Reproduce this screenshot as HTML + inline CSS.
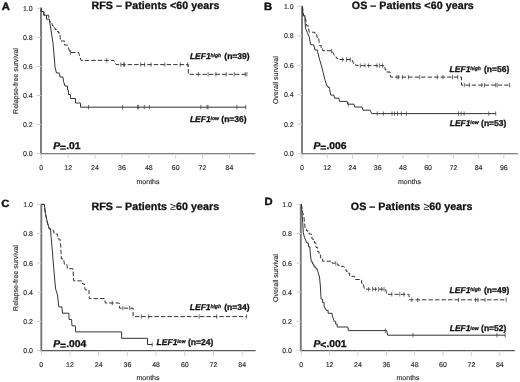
<!DOCTYPE html>
<html><head><meta charset="utf-8"><title>Figure</title>
<style>
html,body{margin:0;padding:0;background:#fff;}
svg{display:block;text-rendering:geometricPrecision;font-family:"Liberation Sans",Arial,Helvetica,sans-serif;}
.tk{font-size:7px;fill:#2c2c2c;stroke:#2c2c2c;stroke-width:0.15;}
.lb{font-size:7px;fill:#2c2c2c;stroke:#2c2c2c;stroke-width:0.15;}
.ttl{font-size:10.7px;font-weight:bold;fill:#111;stroke:#111;stroke-width:0.3;letter-spacing:0.05px;}
.ltr{font-size:10.5px;font-weight:bold;fill:#111;stroke:#111;stroke-width:0.4;}
.pv{font-size:9.9px;font-weight:bold;fill:#111;stroke:#111;stroke-width:0.3;}
.sp{font-size:5px;font-weight:bold;font-style:italic;fill:#111;stroke:#111;stroke-width:0.25;}
.lg{font-size:8.5px;font-weight:bold;fill:#111;stroke:#111;stroke-width:0.3;}
.cv{fill:none;stroke:#333;stroke-width:1.0;stroke-linejoin:miter;}
.ct{fill:none;stroke:#333;stroke-width:0.7;}
</style></head>
<body>
<svg width="520" height="382" viewBox="0 0 520 382">
<rect width="520" height="382" fill="#fff"/>
<path d="M41.0,7.800000000000001V154.29999999999998" fill="none" stroke="#787878" stroke-width="1.9"/>
<path d="M40.1,153.7H255.3" fill="none" stroke="#585858" stroke-width="1.05"/>
<text x="32.7" y="156.3" text-anchor="end" class="tk">0.0</text>
<text x="32.7" y="127.2" text-anchor="end" class="tk">0.2</text>
<text x="32.7" y="98.1" text-anchor="end" class="tk">0.4</text>
<text x="32.7" y="69.1" text-anchor="end" class="tk">0.6</text>
<text x="32.7" y="40.0" text-anchor="end" class="tk">0.8</text>
<text x="32.7" y="10.9" text-anchor="end" class="tk">1.0</text>
<text x="41.3" y="169.9" text-anchor="middle" class="tk">0</text>
<text x="68.2" y="169.9" text-anchor="middle" class="tk">12</text>
<text x="95.0" y="169.9" text-anchor="middle" class="tk">24</text>
<text x="121.9" y="169.9" text-anchor="middle" class="tk">36</text>
<text x="148.8" y="169.9" text-anchor="middle" class="tk">48</text>
<text x="175.7" y="169.9" text-anchor="middle" class="tk">60</text>
<text x="202.5" y="169.9" text-anchor="middle" class="tk">72</text>
<text x="229.4" y="169.9" text-anchor="middle" class="tk">84</text>
<path d="M36.5,153.7H41.0M36.5,124.6H41.0M36.5,95.5H41.0M36.5,66.5H41.0M36.5,37.4H41.0M36.5,8.3H41.0M41.3,153.7V158.7M68.2,153.7V158.7M95.0,153.7V158.7M121.9,153.7V158.7M148.8,153.7V158.7M175.7,153.7V158.7M202.5,153.7V158.7M229.4,153.7V158.7" fill="none" stroke="#cfcfcf" stroke-width="1"/>
<path d="M41.3,7.8H41.3V11.5H43.8V11.5H43.8V15.2H46.5V15.2H46.5V19.2H49.5V19.2L50.0,24.0L51.0,30.0L53.0,43.0L54.5,60.0L55.0,67.0L56.5,73.0H59.5V73.5L60.0,77.0H63.0V77.5L63.5,81.5L65.0,86.0H67.5V86.0H67.5V90.0H68.5V90.5H68.5V94.5H70.5V95.0H70.5V98.5H75.5V98.8H75.5V103.0H80.5V103.2H80.5V107.2H246.2V107.2" class="cv"/>
<path d="M41.3,7.8H41.3V11.5H43.8V11.5H43.8V15.2H48.7V15.2H48.7V19.2H49.5V19.2H49.5V22.0H52.0V23.0L52.5,26.0H53.8V27.8H55.0V29.5H56.5V31.5H58.5V33.0H60.0V35.0L60.5,41.0H64.5V41.2H64.5V45.0H67.5V45.0L70.0,52.5H78.5V52.5L81.0,60.4H114.0V60.4L116.0,64.6H188.3V64.6H188.3V74.3H246.9V74.3" class="cv" stroke-dasharray="4.4 2.1"/>
<path d="M88.5,104.9V109.3 M122.5,104.9V109.3 M137.5,104.9V109.3 M138.6,104.9V109.3 M144.3,104.9V109.3 M149.4,104.9V109.3 M200.9,104.9V109.3 M207.0,104.9V109.3 M208.0,104.9V109.3 M236.9,104.9V109.3 M245.7,104.9V109.3" class="ct"/>
<path d="M70.5,50.3V54.7" class="ct"/>
<path d="M106.8,58.2V62.6" class="ct"/>
<path d="M120.8,62.4V66.8 M123.8,62.4V66.8 M124.6,62.4V66.8 M140.7,62.4V66.8 M144.6,62.4V66.8 M151.0,62.4V66.8 M164.9,62.4V66.8 M180.2,62.4V66.8 M187.6,62.4V66.8" class="ct"/>
<path d="M198.3,72.1V76.5 M208.1,72.1V76.5 M215.9,72.1V76.5 M226.3,72.1V76.5 M234.3,72.1V76.5 M245.2,72.1V76.5 M246.9,72.1V76.5" class="ct"/>
<text transform="translate(1.8,10.1) scale(1.07,1)" class="ltr">A</text>
<text x="91.5" y="9.4" class="ttl">RFS – Patients &lt;60 years</text>
<text transform="translate(17.9,81) rotate(-90)" text-anchor="middle" class="lb">Relapse-free survival</text>
<text x="148" y="183.7" text-anchor="middle" class="lb">months</text>
<text transform="translate(53.2,148.9) scale(1.05,1)" class="pv"><tspan font-style="italic">P</tspan><tspan dy="1.6">=</tspan><tspan dy="-1.6">.01</tspan></text>
<text x="189.9" y="58.6" class="lg" font-style="italic">LEF1</text>
<text x="210.5" y="56.9" class="sp">high</text>
<text x="224.3" y="58.6" class="lg">(n=39)</text>
<text x="189.9" y="121.9" class="lg" font-style="italic">LEF1</text>
<text x="210.5" y="120.2" class="sp">low</text>
<text x="221.3" y="121.9" class="lg">(n=36)</text>
<path d="M302.0,5.8V154.29999999999998" fill="none" stroke="#787878" stroke-width="1.9"/>
<path d="M301.1,153.7H517.9" fill="none" stroke="#585858" stroke-width="1.05"/>
<text x="293.7" y="156.3" text-anchor="end" class="tk">0.0</text>
<text x="293.7" y="126.8" text-anchor="end" class="tk">0.2</text>
<text x="293.7" y="97.3" text-anchor="end" class="tk">0.4</text>
<text x="293.7" y="67.9" text-anchor="end" class="tk">0.6</text>
<text x="293.7" y="38.4" text-anchor="end" class="tk">0.8</text>
<text x="293.7" y="8.9" text-anchor="end" class="tk">1.0</text>
<text x="302.0" y="169.9" text-anchor="middle" class="tk">0</text>
<text x="327.2" y="169.9" text-anchor="middle" class="tk">12</text>
<text x="352.4" y="169.9" text-anchor="middle" class="tk">24</text>
<text x="377.7" y="169.9" text-anchor="middle" class="tk">36</text>
<text x="402.9" y="169.9" text-anchor="middle" class="tk">48</text>
<text x="428.1" y="169.9" text-anchor="middle" class="tk">60</text>
<text x="453.4" y="169.9" text-anchor="middle" class="tk">72</text>
<text x="478.6" y="169.9" text-anchor="middle" class="tk">84</text>
<text x="503.8" y="169.9" text-anchor="middle" class="tk">96</text>
<path d="M297.5,153.7H302.0M297.5,124.2H302.0M297.5,94.7H302.0M297.5,65.3H302.0M297.5,35.8H302.0M297.5,6.3H302.0M302.0,153.7V158.7M327.2,153.7V158.7M352.4,153.7V158.7M377.7,153.7V158.7M402.9,153.7V158.7M428.1,153.7V158.7M453.4,153.7V158.7M478.6,153.7V158.7M503.8,153.7V158.7" fill="none" stroke="#cfcfcf" stroke-width="1"/>
<path d="M302.4,6.4L303.0,15.8H304.9V18.4L305.5,28.4L307.4,32.8L309.3,37.2L310.6,44.8H313.8V45.3L315.0,50.0H317.5V51.3L319.4,58.9L321.3,65.2L323.2,72.7L325.1,80.3L327.0,86.3H328.2V87.5H329.5V88.8L330.8,95.1H334.0V95.7L334.6,98.2H339.0V98.9L339.6,101.4H347.2V101.6L347.8,104.2H354.1V104.5L354.7,107.0H362.3V107.4L362.9,110.2H370.4V110.6L371.7,113.6H495.7V113.6" class="cv"/>
<path d="M302.4,6.4L303.7,15.8H305.5V18.4L306.8,25.9H308.7V29.0L309.3,32.2H313.7V32.4H315.0V34.7H316.9V37.2H318.8V39.1L319.4,44.8L319.8,45.7H321.2V48.2H322.6V50.7H331.4V51.1H332.6V52.0L335.2,57.0H336.4V58.2H337.7V59.5H352.1V59.7L353.4,63.3H354.6V64.4H355.9V65.6H382.6V65.6H383.9V67.7H385.1V69.9H386.4V72.0H390.1V73.3L390.8,77.1H461.5V77.1H461.5V85.1H509.6V85.1" class="cv" stroke-dasharray="4.4 2.1"/>
<path d="M377.3,111.4V115.8 M383.4,111.4V115.8 M392.0,111.4V115.8 M394.5,111.4V115.8 M397.5,111.4V115.8 M401.3,111.4V115.8 M406.3,111.4V115.8 M458.5,111.4V115.8 M461.1,111.4V115.8 M464.1,111.4V115.8 M488.8,111.4V115.8 M495.7,111.4V115.8" class="ct"/>
<path d="M331.4,48.9V53.3" class="ct"/>
<path d="M342.7,57.4V61.8 M346.5,57.4V61.8 M350.3,57.4V61.8" class="ct"/>
<path d="M360.3,63.4V67.8 M365.0,63.4V67.8 M368.6,63.4V67.8 M376.9,63.4V67.8 M379.4,63.4V67.8 M382.6,63.4V67.8" class="ct"/>
<path d="M397.0,74.9V79.3 M398.7,74.9V79.3 M402.5,74.9V79.3 M408.4,74.9V79.3 M419.7,74.9V79.3 M437.3,74.9V79.3 M443.0,74.9V79.3 M452.5,74.9V79.3 M457.7,74.9V79.3" class="ct"/>
<path d="M464.3,82.9V87.3 M469.4,82.9V87.3 M481.9,82.9V87.3 M484.5,82.9V87.3 M495.7,82.9V87.3 M497.1,82.9V87.3 M509.6,82.9V87.3" class="ct"/>
<path d="M348.2,102.1V106.5" class="ct"/>
<text transform="translate(264.1,9.6) scale(1.07,1)" class="ltr">B</text>
<text x="351.8" y="8.9" class="ttl">OS – Patients &lt;60 years</text>
<text transform="translate(278,80.2) rotate(-90)" text-anchor="middle" class="lb">Overall survival</text>
<text x="409.5" y="183.7" text-anchor="middle" class="lb">months</text>
<text transform="translate(313.4,148.9) scale(1.05,1)" class="pv"><tspan font-style="italic">P</tspan><tspan dy="1.6">=</tspan><tspan dy="-1.6">.006</tspan></text>
<text x="449.6" y="71.6" class="lg" font-style="italic">LEF1</text>
<text x="470.2" y="69.9" class="sp">high</text>
<text x="484.0" y="71.6" class="lg">(n=56)</text>
<text x="449.7" y="125.6" class="lg" font-style="italic">LEF1</text>
<text x="470.3" y="123.9" class="sp">low</text>
<text x="481.1" y="125.6" class="lg">(n=53)</text>
<path d="M41.3,203.9V351.20000000000005" fill="none" stroke="#787878" stroke-width="1.9"/>
<path d="M40.4,350.6H255.6" fill="none" stroke="#585858" stroke-width="1.05"/>
<text x="33.0" y="353.2" text-anchor="end" class="tk">0.0</text>
<text x="33.0" y="324.0" text-anchor="end" class="tk">0.2</text>
<text x="33.0" y="294.7" text-anchor="end" class="tk">0.4</text>
<text x="33.0" y="265.5" text-anchor="end" class="tk">0.6</text>
<text x="33.0" y="236.2" text-anchor="end" class="tk">0.8</text>
<text x="33.0" y="207.0" text-anchor="end" class="tk">1.0</text>
<text x="41.3" y="366.8" text-anchor="middle" class="tk">0</text>
<text x="70.0" y="366.8" text-anchor="middle" class="tk">12</text>
<text x="98.7" y="366.8" text-anchor="middle" class="tk">24</text>
<text x="127.4" y="366.8" text-anchor="middle" class="tk">36</text>
<text x="156.1" y="366.8" text-anchor="middle" class="tk">48</text>
<text x="184.8" y="366.8" text-anchor="middle" class="tk">60</text>
<text x="213.5" y="366.8" text-anchor="middle" class="tk">72</text>
<text x="242.2" y="366.8" text-anchor="middle" class="tk">84</text>
<path d="M36.8,350.6H41.3M36.8,321.4H41.3M36.8,292.1H41.3M36.8,262.9H41.3M36.8,233.6H41.3M36.8,204.4H41.3M41.3,350.6V355.6M70.0,350.6V355.6M98.7,350.6V355.6M127.4,350.6V355.6M156.1,350.6V355.6M184.8,350.6V355.6M213.5,350.6V355.6M242.2,350.6V355.6" fill="none" stroke="#cfcfcf" stroke-width="1"/>
<path d="M41.5,204.4H44.3V204.4L45.5,213.8L47.4,222.6L49.3,228.9H50.6V230.2L51.2,237.7L55.0,283.0L55.7,289.3L57.5,295.0L58.8,306.9H62.0V308.2L62.6,313.2H68.9V313.8L69.1,319.5H71.6V320.1L72.0,325.8H75.4V326.4L75.6,331.9H121.6V331.9H121.6V338.3H147.5V338.3H147.5V344.5H152.2V344.5" class="cv"/>
<path d="M41.5,204.4H44.3V204.4L45.5,213.8L47.4,222.6L49.3,228.9H50.6V230.2H53.7V230.8L54.1,234.0H57.5V234.6L58.1,239.0H60.0V241.5L60.7,245.0L61.4,258.9H63.9V260.8L64.5,264.5H67.0V265.2L67.4,268.7H72.9V268.9L73.7,280.9H82.1V281.5L82.7,284.0H84.6V286.8L85.2,289.9H89.0V290.5L89.3,298.6H104.7V298.8L105.3,303.0H119.3V303.0L119.6,308.2H133.1V308.2H133.1V316.6H246.4V316.6" class="cv" stroke-dasharray="4.4 2.1"/>
<path d="M152.2,342.3V346.7" class="ct"/>
<path d="M112.3,300.8V305.2" class="ct"/>
<path d="M122.8,306.0V310.4 M129.7,306.0V310.4" class="ct"/>
<path d="M141.3,314.4V318.8 M148.7,314.4V318.8 M199.1,314.4V318.8 M216.7,314.4V318.8 M246.4,314.4V318.8" class="ct"/>
<text transform="translate(1.2,206.6) scale(1.07,1)" class="ltr">C</text>
<text x="91.5" y="210.2" class="ttl">RFS – Patients <tspan font-weight="normal" stroke="none">≥</tspan>60 years</text>
<text transform="translate(17.5,278) rotate(-90)" text-anchor="middle" class="lb">Relapse-free survival</text>
<text x="148" y="379.7" text-anchor="middle" class="lb">months</text>
<text transform="translate(53.2,347.0) scale(1.05,1)" class="pv"><tspan font-style="italic">P</tspan><tspan dy="1.6">=</tspan><tspan dy="-1.6">.004</tspan></text>
<text x="189.8" y="310.1" class="lg" font-style="italic">LEF1</text>
<text x="210.4" y="308.4" class="sp">high</text>
<text x="224.2" y="310.1" class="lg">(n=34)</text>
<text x="156.6" y="345.1" class="lg" font-style="italic">LEF1</text>
<text x="177.2" y="343.4" class="sp">low</text>
<text x="188.0" y="345.1" class="lg">(n=24)</text>
<path d="M300.8,203.9V351.20000000000005" fill="none" stroke="#787878" stroke-width="1.9"/>
<path d="M299.90000000000003,350.6H514.9" fill="none" stroke="#585858" stroke-width="1.05"/>
<text x="291.9" y="353.2" text-anchor="end" class="tk">0.0</text>
<text x="291.9" y="324.0" text-anchor="end" class="tk">0.2</text>
<text x="291.9" y="294.7" text-anchor="end" class="tk">0.4</text>
<text x="291.9" y="265.5" text-anchor="end" class="tk">0.6</text>
<text x="291.9" y="236.2" text-anchor="end" class="tk">0.8</text>
<text x="291.9" y="207.0" text-anchor="end" class="tk">1.0</text>
<text x="301.2" y="366.8" text-anchor="middle" class="tk">0</text>
<text x="329.6" y="366.8" text-anchor="middle" class="tk">12</text>
<text x="357.9" y="366.8" text-anchor="middle" class="tk">24</text>
<text x="386.3" y="366.8" text-anchor="middle" class="tk">36</text>
<text x="414.7" y="366.8" text-anchor="middle" class="tk">48</text>
<text x="443.0" y="366.8" text-anchor="middle" class="tk">60</text>
<text x="471.4" y="366.8" text-anchor="middle" class="tk">72</text>
<text x="499.8" y="366.8" text-anchor="middle" class="tk">84</text>
<path d="M296.3,350.6H300.8M296.3,321.4H300.8M296.3,292.1H300.8M296.3,262.9H300.8M296.3,233.6H300.8M296.3,204.4H300.8M301.2,350.6V355.6M329.6,350.6V355.6M357.9,350.6V355.6M386.3,350.6V355.6M414.7,350.6V355.6M443.0,350.6V355.6M471.4,350.6V355.6M499.8,350.6V355.6" fill="none" stroke="#cfcfcf" stroke-width="1"/>
<path d="M301.4,204.4L302.0,212.6L302.7,222.6L303.3,232.7L304.5,237.7L306.9,243.0H308.4V246.8H310.0V250.5L311.3,261.9H312.6V264.1H313.8V266.3H315.1V267.8H316.3V269.2H317.6V270.7L319.5,277.0L320.3,285.0L321.1,299.1H322.6V302.6H324.1V306.2L326.1,310.3H328.1V313.3H332.2V315.3L334.2,321.4H335.7V324.2H337.2V327.0H347.9V327.4L348.3,330.6H386.7V330.6L387.7,335.2H505.2V335.2" class="cv"/>
<path d="M301.4,204.4L302.7,212.6L303.9,216.4L304.5,222.6L305.2,228.9H306.4V230.5H307.7V232.1H309.0V234.0H311.5V234.6L312.1,239.0H313.2V241.0H314.4V243.0H316.0V247.4H317.6V251.8H319.1V255.0H320.7V258.1H322.6V261.2H330.8V261.2H332.0V263.1H336.4V263.8H337.7V265.1H339.0V266.3H344.0V266.9L345.3,270.0H346.6V271.6H347.8V273.2H349.7V276.3H354.7V277.0L355.3,279.5H359.7V280.1H361.6V283.3H363.5V285.0L364.5,289.2H385.7V289.2L386.7,294.3H408.8V294.3L409.5,299.8H506.2V299.8" class="cv" stroke-dasharray="4.4 2.1"/>
<path d="M385.3,328.4V332.8" class="ct"/>
<path d="M413.0,333.0V337.4 M496.9,333.0V337.4 M505.2,333.0V337.4" class="ct"/>
<path d="M335.8,261.3V265.7" class="ct"/>
<path d="M368.5,287.0V291.4 M372.6,287.0V291.4 M375.6,287.0V291.4 M378.6,287.0V291.4 M381.7,287.0V291.4 M384.1,287.0V291.4" class="ct"/>
<path d="M391.8,292.1V296.5 M399.8,292.1V296.5 M404.0,292.1V296.5" class="ct"/>
<path d="M411.8,297.6V302.0 M417.7,297.6V302.0 M458.5,297.6V302.0 M475.5,297.6V302.0 M478.0,297.6V302.0 M485.0,297.6V302.0 M506.2,297.6V302.0" class="ct"/>
<text transform="translate(264.4,205.0) scale(1.07,1)" class="ltr">D</text>
<text x="350.8" y="210.3" class="ttl">OS – Patients <tspan font-weight="normal" stroke="none">≥</tspan>60 years</text>
<text transform="translate(277.5,278) rotate(-90)" text-anchor="middle" class="lb">Overall survival</text>
<text x="408" y="379.7" text-anchor="middle" class="lb">months</text>
<text transform="translate(313.4,347.0) scale(1.05,1)" class="pv"><tspan font-style="italic">P</tspan><tspan dy="0.6">&lt;</tspan><tspan dy="-0.6">.001</tspan></text>
<text x="449.6" y="292.7" class="lg" font-style="italic">LEF1</text>
<text x="470.2" y="291.0" class="sp">high</text>
<text x="484.0" y="292.7" class="lg">(n=49)</text>
<text x="449.7" y="331.2" class="lg" font-style="italic">LEF1</text>
<text x="470.3" y="329.5" class="sp">low</text>
<text x="481.1" y="331.2" class="lg">(n=52)</text>
</svg>
</body></html>
